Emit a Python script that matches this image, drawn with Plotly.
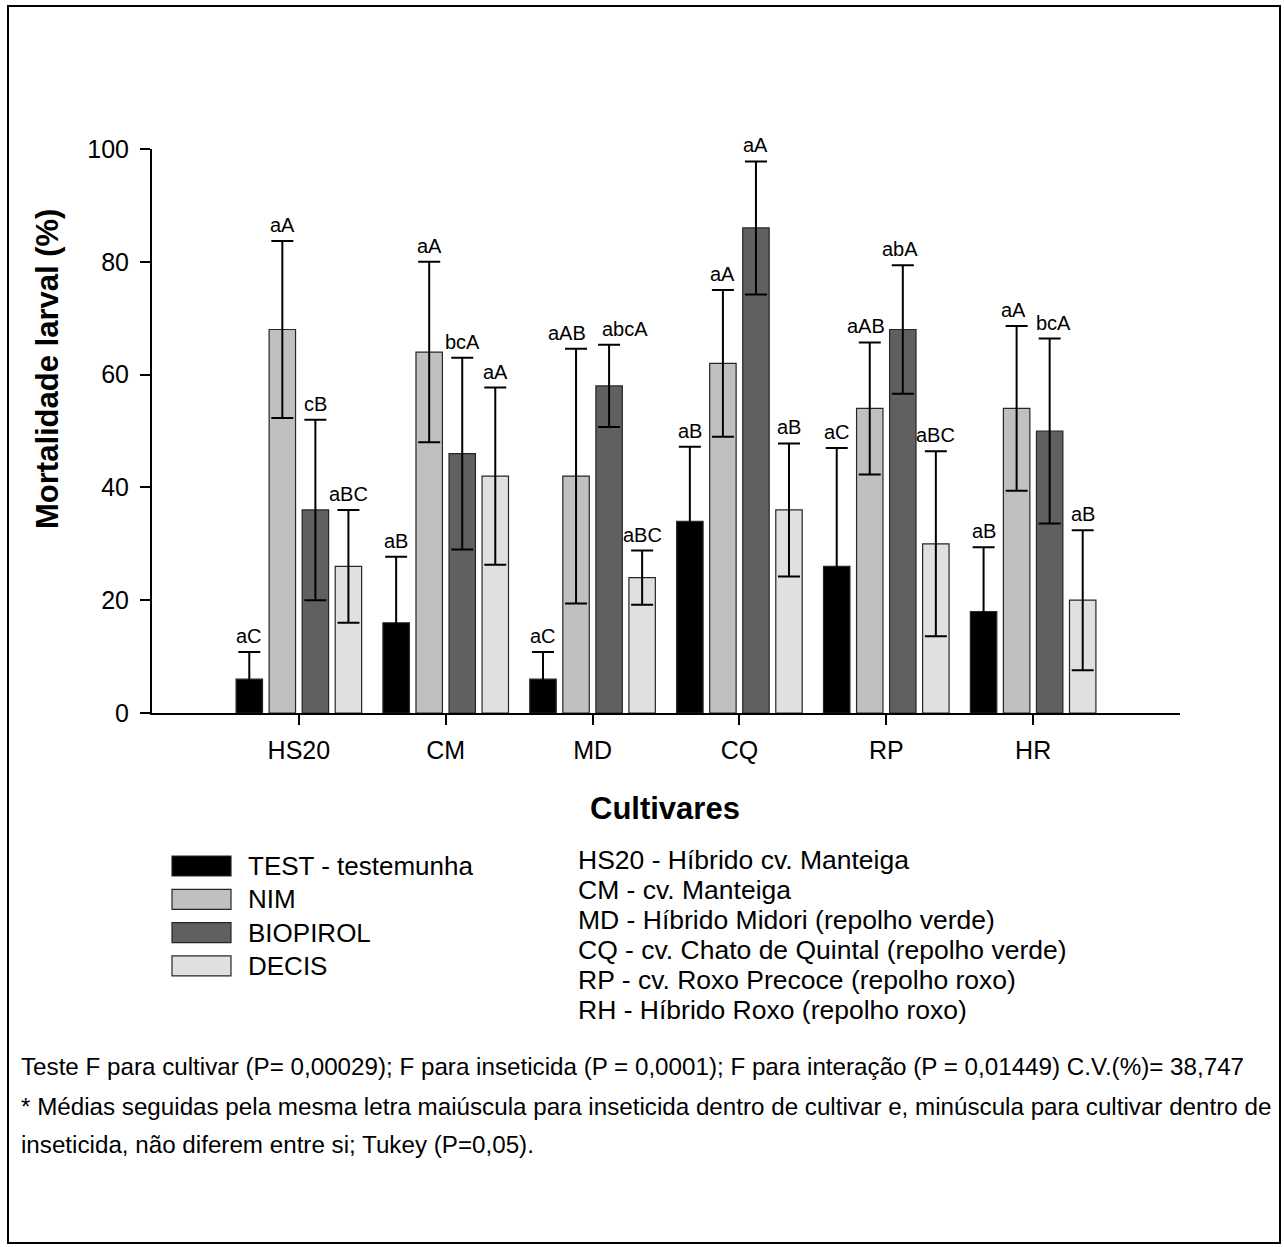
import plotly.graph_objects as go

# ---------------- data ----------------
cultivars = ["HS20", "CM", "MD", "CQ", "RP", "HR"]
series_names = ["TEST - testemunha", "NIM", "BIOPIROL", "DECIS"]

test_vals = [6, 16, 6, 34, 26, 18]
test_err = [4.8, 11.7, 4.8, 13.2, 21.0, 11.4]
test_lbl = ["aC", "aB", "aC", "aB", "aC", "aB"]

nim_vals = [68, 64, 42, 62, 54, 54]
nim_err = [15.7, 16.0, 22.6, 13.0, 11.7, 14.6]
nim_lbl = ["aA", "aA", "aAB", "aA", "aAB", "aA"]

bio_vals = [36, 46, 58, 86, 68, 50]
bio_err = [16.0, 17.0, 7.3, 11.8, 11.4, 16.4]
bio_lbl = ["cB", "bcA", "abcA", "aA", "abA", "bcA"]

decis_vals = [26, 42, 24, 36, 30, 20]
decis_err = [10.0, 15.7, 4.8, 11.8, 16.4, 12.4]
decis_lbl = ["aBC", "aA", "aBC", "aB", "aBC", "aB"]

y_ticks = [0, 20, 40, 60, 80, 100]

cultivar_notes = [
    "HS20 - Híbrido cv. Manteiga",
    "CM - cv. Manteiga",
    "MD - Híbrido Midori (repolho verde)",
    "CQ - cv. Chato de Quintal (repolho verde)",
    "RP - cv. Roxo Precoce (repolho roxo)",
    "RH - Híbrido Roxo (repolho roxo)",
]
footer_lines = [
    "Teste F para cultivar (P= 0,00029); F para inseticida (P = 0,0001); F para interação (P = 0,01449) C.V.(%)= 38,747",
    "* Médias seguidas pela mesma letra maiúscula para inseticida dentro de cultivar e, minúscula para cultivar dentro de",
    "inseticida, não diferem entre si; Tukey (P=0,05).",
]

# ---------------- styling ----------------
colors = ["#000000", "#c0c0c0", "#606060", "#e0e0e0"]
FONT = "Liberation Sans, Arial, Helvetica, sans-serif"

W, H = 1284, 1247
L, R, T, B = 152, 1180, 149, 713  # plot area in pixels

# small horizontal nudges (pixels) of letter labels: (series index, cultivar index)
label_nudge = {(1, 2): -9, (2, 2): 16, (1, 5): -3, (2, 5): 4, (1, 4): -4, (2, 4): -3}


def px(x):
    return (x - L) / (R - L)


def py(y):
    return (B - y) / (B - T)


all_vals = [test_vals, nim_vals, bio_vals, decis_vals]
all_errs = [test_err, nim_err, bio_err, decis_err]
all_lbls = [test_lbl, nim_lbl, bio_lbl, decis_lbl]

xs = list(range(len(cultivars)))
bargap = 0.1
slot = (1 - bargap) / len(series_names)

fig = go.Figure()
for k, name in enumerate(series_names):
    fig.add_trace(go.Bar(
        x=xs, y=all_vals[k], name=name,
        marker=dict(color=colors[k], line=dict(color="#262626", width=1.2)),
        error_y=dict(type="data", array=all_errs[k], visible=True,
                     color="#000000", thickness=2, width=11),
        showlegend=False,
    ))

annotations = []
# significance letters
for k in range(len(series_names)):
    off = -(1 - bargap) / 2 + slot * (k + 0.5)
    for i in xs:
        annotations.append(dict(
            x=i + off, y=all_vals[k][i] + all_errs[k][i], xref="x", yref="y",
            text=all_lbls[k][i], showarrow=False, xanchor="center", yanchor="bottom",
            yshift=3, xshift=label_nudge.get((k, i), 0),
            font=dict(family=FONT, size=20, color="#000000"),
        ))

# axis titles
annotations.append(dict(
    x=px(47), y=py(369), xref="paper", yref="paper", text="<b>Mortalidade larval (%)</b>",
    textangle=-90, showarrow=False, xanchor="center", yanchor="middle",
    font=dict(family=FONT, size=31, color="#000000"),
))
annotations.append(dict(
    x=px(665), y=py(808), xref="paper", yref="paper", text="<b>Cultivares</b>",
    showarrow=False, xanchor="center", yanchor="middle",
    font=dict(family=FONT, size=31, color="#000000"),
))

shapes = []
# outer border
shapes.append(dict(type="rect", xref="paper", yref="paper",
                   x0=px(8), x1=px(1280), y0=py(6), y1=py(1243),
                   line=dict(color="#000000", width=2), fillcolor="rgba(0,0,0,0)"))

# manual legend
for k, name in enumerate(series_names):
    yc = 866 + k * 33.3
    shapes.append(dict(type="rect", xref="paper", yref="paper",
                       x0=px(172), x1=px(231), y0=py(yc - 10), y1=py(yc + 10),
                       fillcolor=colors[k], line=dict(color="#262626", width=1.2)))
    annotations.append(dict(
        x=px(246), y=py(yc), xref="paper", yref="paper", text=name,
        xanchor="left", yanchor="middle", showarrow=False,
        font=dict(family=FONT, size=26, color="#000000"),
    ))

for j, line in enumerate(cultivar_notes):
    annotations.append(dict(
        x=px(576), y=py(860 + j * 30), xref="paper", yref="paper", text=line,
        xanchor="left", yanchor="middle", showarrow=False,
        font=dict(family=FONT, size=26.5, color="#000000"),
    ))

for j, line in enumerate(footer_lines):
    annotations.append(dict(
        x=px(19), y=py([1066, 1106, 1144][j]), xref="paper", yref="paper", text=line,
        xanchor="left", yanchor="middle", showarrow=False,
        font=dict(family=FONT, size=24.2, color="#000000"),
    ))

fig.update_layout(
    width=W, height=H, autosize=False,
    margin=dict(l=L, r=W - R, t=T, b=H - B, pad=0),
    paper_bgcolor="#ffffff", plot_bgcolor="#ffffff",
    barmode="group", bargap=bargap, bargroupgap=0.2,
    font=dict(family=FONT, color="#000000"),
    xaxis=dict(
        range=[-1, 6], tickvals=xs, ticktext=cultivars,
        showline=True, linecolor="#000000", linewidth=2,
        ticks="outside", ticklen=10, tickwidth=2, tickcolor="#000000",
        tickfont=dict(family=FONT, size=25, color="#000000"),
        ticklabelstandoff=4,
        showgrid=False, zeroline=False,
    ),
    yaxis=dict(
        range=[0, 100], tickvals=y_ticks,
        showline=True, linecolor="#000000", linewidth=2,
        ticks="outside", ticklen=10, tickwidth=2, tickcolor="#000000",
        tickfont=dict(family=FONT, size=25, color="#000000"),
        ticklabelstandoff=6,
        showgrid=False, zeroline=False,
    ),
    annotations=annotations,
    shapes=shapes,
)

fig.write_html("out.html")
